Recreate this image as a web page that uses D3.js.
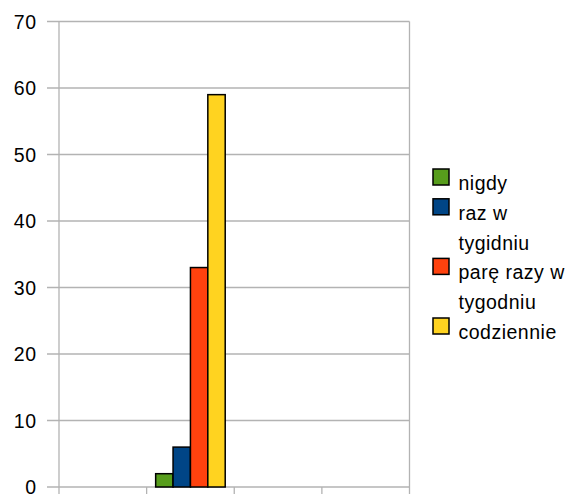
<!DOCTYPE html>
<html><head><meta charset="utf-8">
<script src="https://cdn.jsdelivr.net/npm/d3@7"></script>
<style>body{margin:0;background:#fff}svg{display:block}text{font-family:"Liberation Sans",Arial,sans-serif;fill:#000}</style>
</head><body>
<svg id="c" width="574" height="494"></svg>
<script>
const categories = ["", "x", " ", "  "];
const seriesNames = ["nigdy", "raz w tygidniu", "parę razy w tygodniu", "codziennie"];
const legendLines = [["nigdy"], ["raz w", "tygidniu"], ["parę razy w", "tygodniu"], ["codziennie"]];
const seriesColors = ["#579d1c", "#004586", "#ff420e", "#ffd320"];
// values per series, per category (only the second category holds data)
const nigdy = [null, 2, null, null];
const razWTygodniu = [null, 6, null, null];
const pareRazy = [null, 33, null, null];
const codziennie = [null, 59, null, null];
const yTicks = [0, 10, 20, 30, 40, 50, 60, 70];

const series = [nigdy, razWTygodniu, pareRazy, codziennie];
const svg = d3.select("#c");
const L = 59, R = 409.5, T = 21.5, B = 487;
const x = d3.scaleBand().domain(categories).range([L, R]).paddingInner(0).paddingOuter(0);
const xs = d3.scaleBand().domain(d3.range(series.length)).range([0, x.bandwidth()]).paddingInner(0).paddingOuter(0.52);
const y = d3.scaleLinear().domain([0, 70]).range([B, T]);

// grid lines
svg.append("g").selectAll("line").data(yTicks).join("line")
  .attr("x1", L - 12).attr("x2", R).attr("y1", d => y(d)).attr("y2", d => y(d))
  .attr("stroke", "#b3b3b3").attr("stroke-width", 1.3);
// vertical lines: axis, right edge, category ticks
const xEdges = categories.map(c => x(c)).concat([R]);
svg.append("g").selectAll("line").data(xEdges).join("line")
  .attr("x1", d => d).attr("x2", d => d)
  .attr("y1", (d, i) => (i === 0 || i === xEdges.length - 1) ? T : B)
  .attr("y2", B + 7)
  .attr("stroke", "#b3b3b3").attr("stroke-width", 1.3);

// y labels
svg.append("g").selectAll("text").data(yTicks).join("text")
  .attr("x", 37).attr("y", d => y(d)).attr("dy", "0.36em")
  .attr("text-anchor", "end").attr("font-size", 19.5).attr("letter-spacing", 0.8).text(d => d);

// bars
const g = svg.append("g");
series.forEach((vals, si) => {
  g.selectAll(null).data(categories.map((c, ci) => ({c, v: vals[ci]})).filter(d => d.v != null))
    .join("rect")
    .attr("x", d => x(d.c) + xs(si))
    .attr("width", xs.bandwidth())
    .attr("y", d => y(d.v))
    .attr("height", d => y(0) - y(d.v))
    .attr("fill", seriesColors[si])
    .attr("stroke", "#000").attr("stroke-width", 1.5);
});

// legend
const lineH = 29.8;
let row = 0;
const lg = svg.append("g");
legendLines.forEach((lines, si) => {
  const base = 190 + row * lineH;
  lg.append("rect").attr("x", 433).attr("y", base - 21).attr("width", 16).attr("height", 16)
    .attr("fill", seriesColors[si]).attr("stroke", "#000").attr("stroke-width", 1.5);
  lines.forEach((t, li) => {
    lg.append("text").attr("x", 458.5).attr("y", base + li * lineH).attr("font-size", 19.5)
      .attr("letter-spacing", 0.5).text(t);
  });
  row += lines.length;
});
</script>
</body></html>
